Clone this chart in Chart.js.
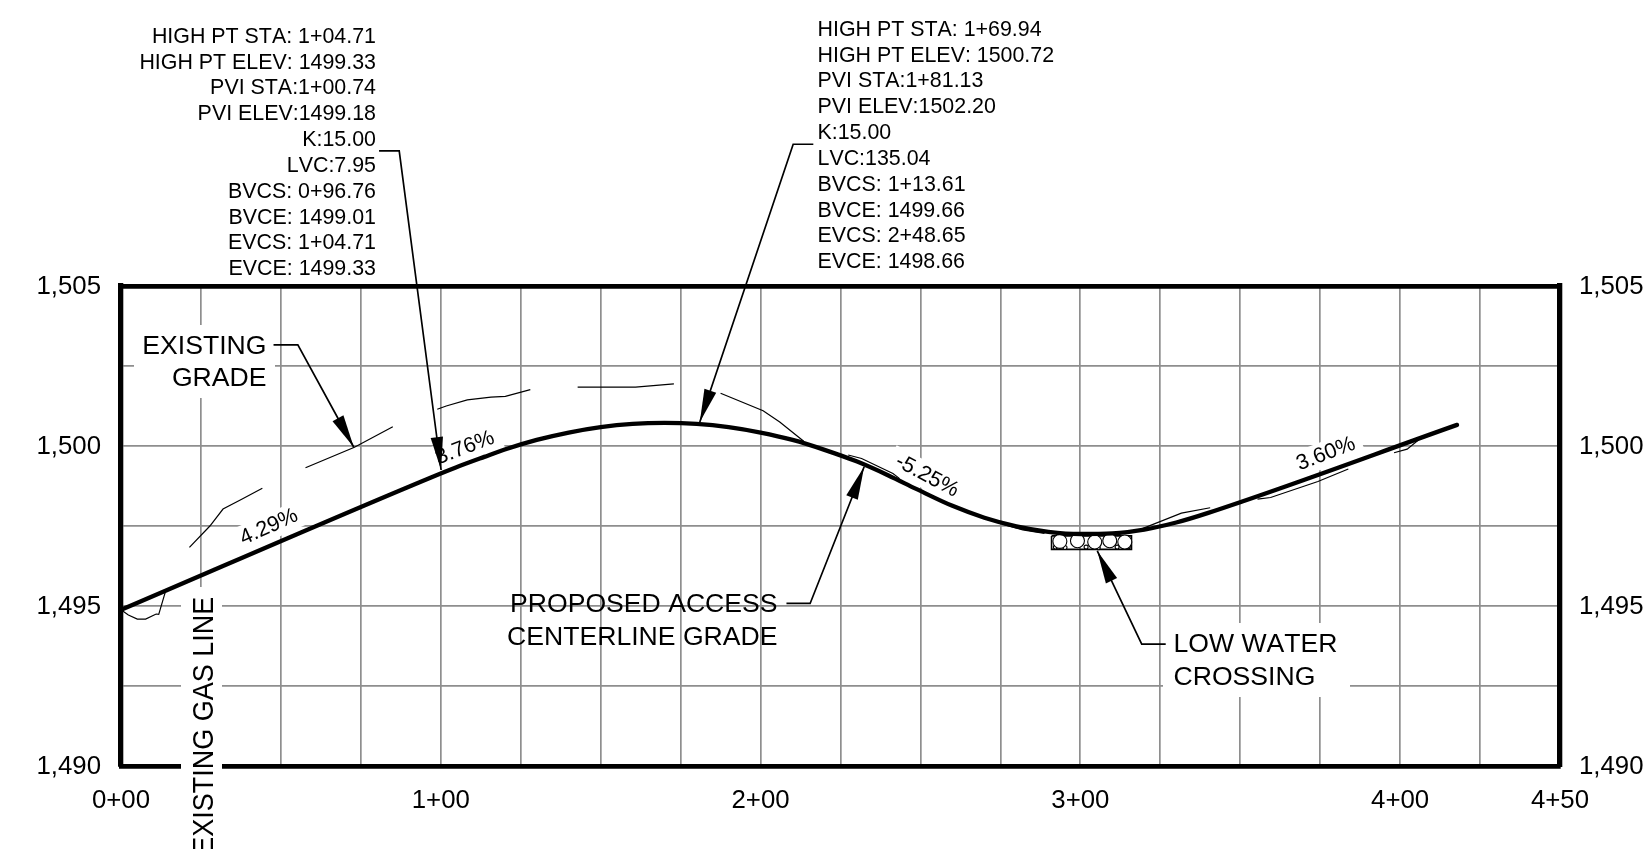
<!DOCTYPE html>
<html>
<head>
<meta charset="utf-8">
<title>Access road profile</title>
<script src="https://cdn.jsdelivr.net/npm/chart.js@4"></script>
<style>
  body { margin: 0; background: #fff; overflow: hidden; }
  canvas { display: block; }
</style>
</head>
<body>
<canvas id="profile" width="1648" height="849"></canvas>
<script>
// Axis ticks
var stationTicks = [0, 100, 200, 300, 400, 450];
var stationLabels = ["0+00", "1+00", "2+00", "3+00", "4+00", "4+50"];
var elevTicks = [1490, 1495, 1500, 1505];
var elevLabels = ["1,490", "1,495", "1,500", "1,505"];

// Proposed centerline grade
var gradeSta = [0, 96.76, 104.71, 113.61, 120, 130, 140, 150, 160, 169.94, 180, 190, 200, 210, 220, 230, 240, 248.65, 260, 270, 280, 290, 300, 310, 320, 330, 340, 417.8];
var gradeElev = [1494.88, 1499.01, 1499.33, 1499.66, 1499.89, 1500.19, 1500.42, 1500.59, 1500.69, 1500.72, 1500.69, 1500.59, 1500.42, 1500.19, 1499.88, 1499.52, 1499.08, 1498.66, 1498.13, 1497.76, 1497.49, 1497.32, 1497.25, 1497.27, 1497.39, 1497.61, 1497.91, 1500.66];

// Existing grade, broken into the pieces that show on the drawing
var existingSta = [
  [0, 2.3, 5.1, 7.7, 11, 11.8, 13.8],
  [21.4, 27.8, 31.9, 37.6, 44.2],
  [57.7, 73, 85],
  [98.9, 101.7, 108.3, 115.7, 120.2, 128],
  [142.8, 160.9, 172.9],
  [187.5, 200.8, 206, 213.5],
  [227.4, 231.6, 241.4, 243.5],
  [275.7, 282, 288.8],
  [318.4, 331.6, 340.6],
  [355.4, 359.5, 374.3, 383.8],
  [398.1, 402.2, 406.4]
];
var existingElev = [
  [1494.88, 1494.72, 1494.59, 1494.59, 1494.75, 1494.74, 1495.42],
  [1496.83, 1497.5, 1498.03, 1498.33, 1498.68],
  [1499.32, 1499.96, 1500.6],
  [1501.15, 1501.25, 1501.44, 1501.53, 1501.55, 1501.76],
  [1501.84, 1501.84, 1501.94],
  [1501.65, 1501.1, 1500.75, 1500.15],
  [1499.72, 1499.61, 1499.14, 1498.98],
  [1497.56, 1497.38, 1497.27],
  [1497.38, 1497.9, 1498.07],
  [1498.34, 1498.39, 1498.89, 1499.28],
  [1499.79, 1499.9, 1500.24]
];

// Leaders, the last point of each is the arrow tip
var leaderSta = [
  [47.7, 55.3, 72.8],
  [80.7, 87, 100.1],
  [216.5, 210.2, 181],
  [208.1, 215.5, 232.4],
  [326.7, 319.2, 305.3]
];
var leaderElev = [
  [1503.16, 1503.16, 1499.96],
  [1509.22, 1509.22, 1499.25],
  [1509.43, 1509.43, 1500.75],
  [1495.08, 1495.08, 1499.35],
  [1493.81, 1493.81, 1496.72]
];

// Low water crossing
var crossingSta = [291, 316, 316, 291, 291];
var crossingElev = [1497.19, 1497.19, 1496.77, 1496.77, 1497.19];
var stoneSta = [293.6, 299.1, 304.5, 309.2, 313.9];
var stoneElev = [1497.02, 1497.04, 1497, 1497.04, 1497];
var pebbleSta = [292.2, 295.2, 301.8, 305.6, 311.5, 315];
var pebbleElev = [1496.84, 1496.83, 1496.84, 1496.82, 1496.84, 1496.85];

// Text on the drawing
var leftNote = ["HIGH PT STA: 1+04.71", "HIGH PT ELEV: 1499.33", "PVI STA:1+00.74", "PVI ELEV:1499.18", "K:15.00", "LVC:7.95", "BVCS: 0+96.76", "BVCE: 1499.01", "EVCS: 1+04.71", "EVCE: 1499.33"];
var rightNote = ["HIGH PT STA: 1+69.94", "HIGH PT ELEV: 1500.72", "PVI STA:1+81.13", "PVI ELEV:1502.20", "K:15.00", "LVC:135.04", "BVCS: 1+13.61", "BVCE: 1499.66", "EVCS: 2+48.65", "EVCE: 1498.66"];
var slopeLabels = ["4.29%", "3.76%", "-5.25%", "3.60%"];

var FONT = '"Liberation Sans", Arial, sans-serif';
var slopeSpots = [
  { x: 269, y: 527, angle: -24 },
  { x: 465, y: 448, angle: -21 },
  { x: 927, y: 476, angle: 28 },
  { x: 1326, y: 454, angle: -21 }
];

function pts(xs, ys) {
  return xs.map(function(x, i) { return { x: x, y: ys[i] }; });
}

function thinLine(xs, ys, w) {
  return { data: pts(xs, ys), showLine: true, borderColor: "#000", borderWidth: w, pointRadius: 0, clip: false, order: 2 };
}

var datasets = [];
datasets.push({ data: pts(gradeSta, gradeElev), showLine: true, borderColor: "#000", borderWidth: 4.3, pointRadius: 0, cubicInterpolationMode: "monotone", borderCapStyle: "round", clip: false, order: 0 });
existingSta.forEach(function(s, i) { datasets.push(thinLine(s, existingElev[i], 1.2)); });
leaderSta.forEach(function(s, i) {
  var d = thinLine(s, leaderElev[i], 1.7);
  d.arrow = true;
  datasets.push(d);
});
datasets.push(thinLine(crossingSta, crossingElev, 1.6));
datasets.push({ data: pts(stoneSta, stoneElev), pointRadius: 7, pointBorderWidth: 1.1, pointBorderColor: "#000", pointBackgroundColor: "#fff", clip: { top: false, left: false, right: false, bottom: false }, order: 1 });
datasets.push({ data: pts(pebbleSta, pebbleElev), pointRadius: 2, pointBorderWidth: 1.1, pointBorderColor: "#000", pointBackgroundColor: "#fff", order: 1 });

function setText(ctx, size, align, base) {
  ctx.font = size + "px " + FONT;
  ctx.textAlign = align;
  ctx.textBaseline = base;
  ctx.fillStyle = "#000";
}

// White knock-outs behind the labels, these also break the grid and the frame
var maskPlugin = {
  id: "masks",
  beforeDraw: function(chart) {
    chart.ctx.fontKerning = "none";
  },
  beforeDatasetsDraw: function(chart) {
    var ctx = chart.ctx;
    ctx.save();
    ctx.fillStyle = "#fff";
    ctx.fillRect(134, 325, 141, 73);      // EXISTING GRADE
    ctx.fillRect(181, 587, 41, 262);      // EXISTING GAS LINE
    ctx.fillRect(1163, 623, 187, 74);     // LOW WATER CROSSING
    setText(ctx, 21.6, "center", "middle");
    slopeSpots.forEach(function(s, i) {
      var w = ctx.measureText(slopeLabels[i]).width + 14;
      ctx.save();
      ctx.translate(s.x, s.y);
      ctx.rotate(s.angle * Math.PI / 180);
      ctx.fillStyle = "#fff";
      ctx.fillRect(-w / 2, -13, w, 26);
      ctx.restore();
    });
    ctx.restore();
  }
};

var notePlugin = {
  id: "notes",
  afterDatasetsDraw: function(chart) {
    var ctx = chart.ctx;
    ctx.save();

    // arrow heads on the leaders
    chart.data.datasets.forEach(function(d) {
      if (!d.arrow) return;
      var n = d.data.length;
      var xa = chart.scales.x, ya = chart.scales.y;
      var tipX = xa.getPixelForValue(d.data[n - 1].x), tipY = ya.getPixelForValue(d.data[n - 1].y);
      var fromX = xa.getPixelForValue(d.data[n - 2].x), fromY = ya.getPixelForValue(d.data[n - 2].y);
      var a = Math.atan2(tipY - fromY, tipX - fromX);
      ctx.save();
      ctx.translate(tipX, tipY);
      ctx.rotate(a);
      ctx.fillStyle = "#000";
      ctx.beginPath();
      ctx.moveTo(0, 0);
      ctx.lineTo(-33, -6.2);
      ctx.lineTo(-33, 6.2);
      ctx.closePath();
      ctx.fill();
      ctx.restore();
    });

    setText(ctx, 21.4, "right", "middle");
    leftNote.forEach(function(t, i) { ctx.fillText(t, 376, 36.8 + i * 25.85); });
    setText(ctx, 21.4, "left", "middle");
    rightNote.forEach(function(t, i) { ctx.fillText(t, 817.5, 29.8 + i * 25.85); });

    setText(ctx, 26.6, "right", "middle");
    ctx.fillText("EXISTING", 266.5, 347);
    ctx.fillText("GRADE", 266.5, 379);
    ctx.fillText("PROPOSED ACCESS", 777.5, 605);
    ctx.fillText("CENTERLINE GRADE", 777.5, 637.5);
    setText(ctx, 26.6, "left", "middle");
    ctx.fillText("LOW WATER", 1173.5, 645);
    ctx.fillText("CROSSING", 1173.5, 677.5);

    setText(ctx, 21.6, "center", "middle");
    slopeSpots.forEach(function(s, i) {
      ctx.save();
      ctx.translate(s.x, s.y);
      ctx.rotate(s.angle * Math.PI / 180);
      ctx.fillText(slopeLabels[i], 0, 0);
      ctx.restore();
    });

    // the gas line note is set in a wider lettering on the drawing
    ctx.save();
    ctx.translate(204.5, 596.7);
    ctx.rotate(-Math.PI / 2);
    ctx.scale(1, 1.08);
    setText(ctx, 27, "right", "middle");
    ctx.fillText("EXISTING GAS LINE", 0, 0);
    ctx.restore();

    ctx.restore();
  }
};

function fixWidth(w) { return function(scale) { scale.width = w; }; }
function fixHeight(h) { return function(scale) { scale.height = h; }; }

var frameX = { display: true, width: 4.7, color: "#000" };
var frameY = { display: true, width: 5.3, color: "#000" };
var gridStyle = { color: "#8e8e8e", lineWidth: 1.7, drawTicks: false };

function stationText(v) {
  var i = stationTicks.indexOf(v);
  return i < 0 ? "" : stationLabels[i];
}

function elevText(v) {
  var i = elevTicks.indexOf(v);
  return i < 0 ? "" : elevLabels[i];
}

var myChart = new Chart(document.getElementById("profile"), {
  type: "scatter",
  data: { datasets: datasets },
  plugins: [maskPlugin, notePlugin],
  options: {
    responsive: false,
    animation: false,
    devicePixelRatio: 1,
    layout: { padding: 0 },
    plugins: { legend: { display: false }, tooltip: { enabled: false } },
    scales: {
      x: {
        type: "linear", position: "bottom", min: 0, max: 450,
        afterFit: fixHeight(83),
        border: frameX, grid: gridStyle,
        ticks: {
          stepSize: 25, autoSkip: false, maxRotation: 0, padding: 19, color: "#000",
          font: { family: FONT, size: 25.8 },
          callback: stationText
        }
      },
      xTop: {
        type: "linear", position: "top", min: 0, max: 450,
        afterFit: fixHeight(286),
        border: frameX, grid: { display: false }, ticks: { display: false }
      },
      y: {
        type: "linear", position: "left", min: 1490, max: 1505,
        afterFit: fixWidth(121),
        border: frameY, grid: gridStyle,
        ticks: {
          stepSize: 2.5, autoSkip: false, padding: 20, labelOffset: 1, color: "#000",
          font: { family: FONT, size: 25.8 },
          callback: elevText
        }
      },
      yRight: {
        type: "linear", position: "right", min: 1490, max: 1505,
        afterFit: fixWidth(88),
        border: frameY, grid: { display: false },
        ticks: {
          stepSize: 2.5, autoSkip: false, padding: 11, labelOffset: 1, color: "#000",
          font: { family: FONT, size: 25.8 },
          callback: elevText
        }
      }
    }
  }
});
</script>
</body>
</html>
